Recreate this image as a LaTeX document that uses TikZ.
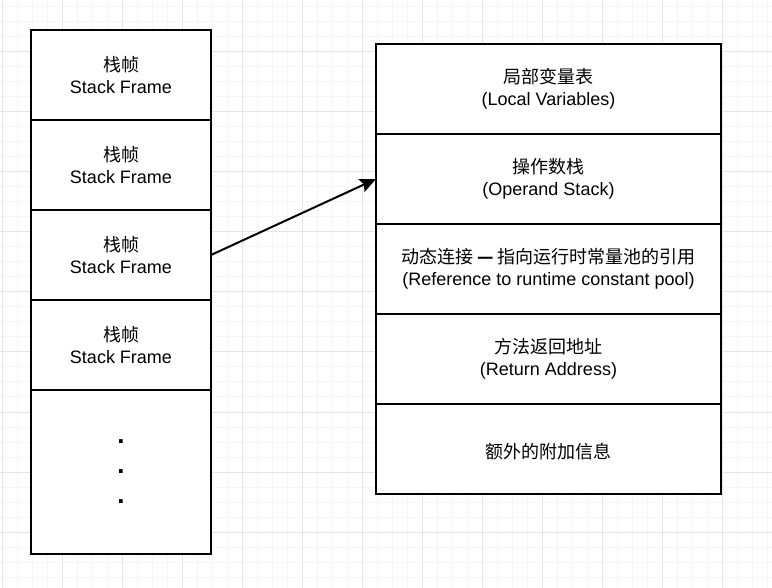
\documentclass[tikz,border=0pt]{standalone}
\usepackage{fontspec}
\setmainfont{Liberation Sans}
\newfontfamily\cjk{Noto Sans CJK SC}
\usetikzlibrary{arrows.meta}
\definecolor{gridminor}{RGB}{245,245,245}
\definecolor{gridmajor}{RGB}{228,228,228}
\begin{document}
\begin{tikzpicture}[x=1pt, y=-1pt,
  frame/.style={draw, line width=2pt, fill=white, outer sep=0pt, minimum width=180pt, minimum height=90pt, align=center, execute at begin node=\rule{0pt}{21pt}, font=\fontsize{18}{22}\selectfont},
  slot/.style={draw, line width=2pt, fill=white, outer sep=0pt, minimum width=345pt, minimum height=90pt, align=center, execute at begin node=\rule{0pt}{21pt}, font=\fontsize{18}{22}\selectfont}]
  \useasboundingbox (0,0) rectangle (772,588);
  \fill[white] (0,0) rectangle (772,588);
  \foreach \gx in {2,17,...,767} \draw[gridminor, line width=1pt] (\gx,0) -- (\gx,588);
  \foreach \gy in {7,22,...,587} \draw[gridminor, line width=1pt] (0,\gy) -- (772,\gy);
  \foreach \gx in {2,62,...,767} \draw[gridmajor, line width=1pt] (\gx,0) -- (\gx,588);
  \foreach \gy in {52,112,...,587} \draw[gridmajor, line width=1pt] (0,\gy) -- (772,\gy);
  % stack of frames
  \node[frame] (F1) at (121,75) {{\cjk 栈帧}\\Stack Frame};
  \node[frame] (F2) at (121,165) {{\cjk 栈帧}\\Stack Frame};
  \node[frame] (F3) at (121,255) {{\cjk 栈帧}\\Stack Frame};
  \node[frame] (F4) at (121,345) {{\cjk 栈帧}\\Stack Frame};
  \node[frame, minimum height=164pt, execute at begin node={}, font=\fontsize{26}{30}\bfseries] (F5) at (121,472) {.\\.\\.};
  % one frame in detail
  \node[slot] (S1) at (548.5,89) {{\cjk 局部变量表}\\(Local Variables)};
  \node[slot] (S2) at (548.5,179) {{\cjk 操作数栈}\\(Operand Stack)};
  \node[slot] (S3) at (548.5,269) {{\cjk 动态连接 \textbf{—} 指向运行时常量池的引用}\\(Reference to runtime constant pool)};
  \node[slot] (S4) at (548.5,359) {{\cjk 方法返回地址}\\(Return Address)};
  \node[slot, execute at begin node={}] (S5) at (548.5,449) {{\cjk 额外的附加信息}};
  \draw[line width=2pt, -{Stealth[length=16pt, width=14pt, inset=3pt]}] (F3.east) -- (S2.west);
\end{tikzpicture}
\end{document}
